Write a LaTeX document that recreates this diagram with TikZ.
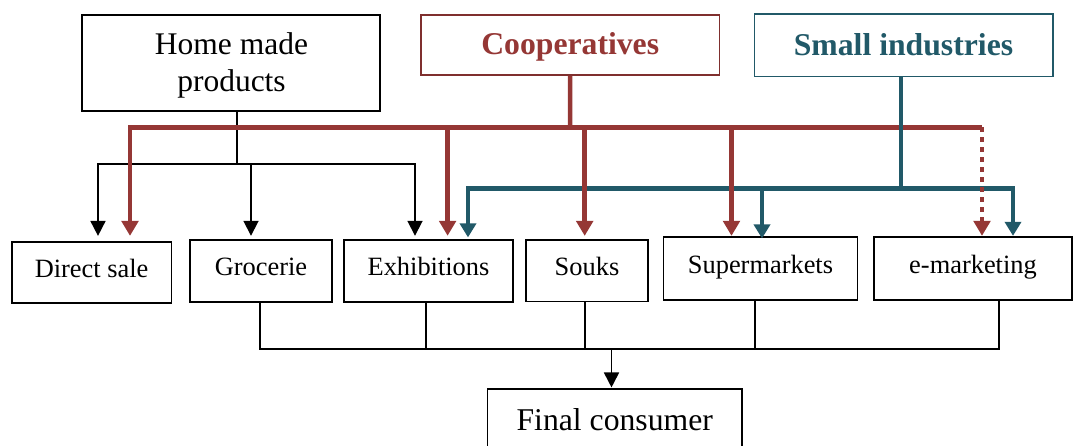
\documentclass[tikz,border=0pt]{standalone}
\usepackage{fontspec}
\setmainfont{Liberation Serif}
\usetikzlibrary{arrows.meta}
\definecolor{coopred}{HTML}{953735}
\definecolor{coopedge}{HTML}{7F2F2E}
\definecolor{smteal}{HTML}{215968}
\begin{document}
\begin{tikzpicture}[x=1pt,y=-1pt,
  box/.style={draw=black,line width=1.7pt,inner sep=0pt,fill=white},
  rowbox/.style={box,font=\fontsize{26.4}{30}\selectfont,text height=18pt,text depth=8pt,minimum height=61.5pt},
  topbox/.style={box,font=\fontsize{31.7}{36}\selectfont\bfseries,text height=21pt,text depth=1pt},
  bigtxt/.style={font=\fontsize{31.5}{36}\selectfont,inner sep=0pt,anchor=base},
  blk/.style={draw=black,line width=1.8pt},
  btip/.style={blk,-{Triangle[width=15pt,length=15pt]}},
  btip2/.style={blk,{Triangle[width=15pt,length=15pt]}-{Triangle[width=15pt,length=15pt]}},
  rline/.style={draw=coopred,line width=4.5pt},
  rtip/.style={rline,-{Triangle[width=16.5pt,length=15pt]}},
  tline/.style={draw=smteal,line width=4.5pt},
  ttip/.style={tline,-{Triangle[width=16pt,length=14pt]}},
  ttip2/.style={tline,{Triangle[width=16pt,length=14pt]}-{Triangle[width=16pt,length=14pt]}}
]
\useasboundingbox (0,0) rectangle (1087,446);

% top boxes
\node[box,minimum width=298.3pt,minimum height=96.3pt] (home) at (230.85,63.2) {};
\node[bigtxt] (homet1) at (231.5,55) {Home made};
\node[bigtxt] (homet2) at (231.5,92) {products};
\node[topbox,draw=coopedge,text=coopred,minimum width=298.3pt,minimum height=60pt] (coop) at (570.2,45) {Cooperatives};
\node[topbox,draw=smteal,text=smteal,minimum width=298.3pt,minimum height=62.7pt] (small) at (903.5,45.3) {Small industries};

% row boxes
\node[rowbox,minimum width=159.5pt] (direct) at (91.6,272.5) {Direct sale};
\node[rowbox,minimum width=142pt] (groc) at (261,271) {Grocerie};
\node[rowbox,minimum width=169pt] (exhib) at (428.5,271) {Exhibitions};
\node[rowbox,minimum width=122pt] (souks) at (587,270.8) {Souks};
\node[rowbox,minimum width=194pt,minimum height=63pt] (super) at (760.5,268.8) {Supermarkets};
\node[rowbox,minimum width=198pt,minimum height=63pt] (emark) at (973,268.8) {e-marketing};

% final box
\node[box,font=\fontsize{31.7}{36}\selectfont,text height=21pt,text depth=8.3pt,minimum width=254.5pt,minimum height=68.7pt] (final) at (614.75,423.65) {Final consumer};

% black connectors from Home made
\coordinate (hj) at (237,164);
\coordinate (bl) at (98,164);
\coordinate (bm) at (251,164);
\coordinate (br) at (415,164);
\draw[blk] (home.south -| hj) -- (hj);
\draw[btip2,shorten <=5pt,shorten >=3.6pt] (bl |- direct.north) -- (bl) -- (br) -- (br |- exhib.north);
\draw[btip,shorten >=3.6pt] (bm) -- (bm |- groc.north);

% teal bus (under red)
\coordinate (tl) at (468,188.5);
\coordinate (tm) at (762,188.5);
\coordinate (tr) at (1013,188.5);
\coordinate (ts) at (901,188.5);
\draw[ttip2,shorten <=0.6pt,shorten >=2pt] (tr |- emark.north) -- (tr) -- (tl) -- (tl |- exhib.north);
\draw[ttip,shorten >=-2pt] (tm) -- (tm |- super.north);

% red connectors from Cooperatives
\coordinate (rj) at (570,127.3);
\coordinate (r1) at (130,127.3);
\coordinate (r2) at (447.6,127.3);
\coordinate (r3) at (584.7,127.3);
\coordinate (r4) at (731.5,127.3);
\coordinate (r5) at (982,127.3);
\draw[rline] (coop.south) -- (rj);
\draw[rtip,shorten >=5pt] (r5) -- (r1) -- (r1 |- direct.north);
\draw[rtip,shorten >=3.6pt] (r2) -- (r2 |- exhib.north);
\draw[rtip,shorten >=3.3pt] (r3) -- (r3 |- souks.north);
\draw[rtip,shorten >=0.6pt] (r4) -- (r4 |- super.north);
\draw[rtip,dash pattern=on 5pt off 5pt,shorten >=0.6pt] (r5) -- (r5 |- emark.north);

% teal stem from Small industries (on top)
\draw[tline] (small.south -| ts) -- (ts);

% bottom bus to Final consumer
\coordinate (q1) at (259.6,349.3);
\coordinate (q2) at (426,349.3);
\coordinate (q3) at (585,349.3);
\coordinate (q4) at (754.6,349.3);
\coordinate (q5) at (999.3,349.3);
\coordinate (qf) at (611.5,349.3);
\draw[blk] (q1 |- groc.south) -- (q1) -- (q5) -- (q5 |- emark.south);
\draw[blk] (q2 |- exhib.south) -- (q2);
\draw[blk] (q3 |- souks.south) -- (q3);
\draw[blk] (q4 |- super.south) -- (q4);
\draw[btip,shorten >=1pt] (qf) -- (qf |- final.north);
\end{tikzpicture}
\end{document}
